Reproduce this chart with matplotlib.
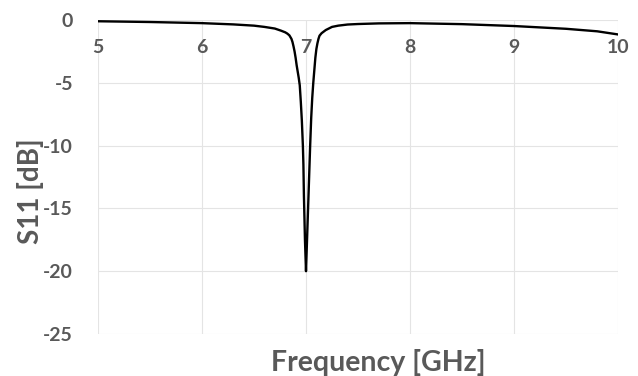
import matplotlib
matplotlib.use("Agg")
import matplotlib.pyplot as plt

# Data
freq = [5.0, 5.5, 6.0, 6.3, 6.5, 6.6, 6.7, 6.76, 6.8, 6.82, 6.84, 6.86, 6.87, 6.88, 6.89, 6.9,
        6.91, 6.92, 6.93, 6.94, 6.95, 6.96, 6.97, 6.975, 6.98, 6.99, 7.0,
        7.01, 7.02, 7.03, 7.04, 7.05, 7.06, 7.07, 7.08, 7.09, 7.10, 7.11, 7.12, 7.13,
        7.15, 7.19, 7.25, 7.31, 7.4, 7.5, 7.7, 8.0, 8.5, 9.0, 9.5, 9.8, 10.0]
s11 = [-0.10, -0.16, -0.25, -0.35, -0.45, -0.55, -0.68, -0.85, -0.98, -1.08, -1.22, -1.5, -1.75,
       -2.1, -2.5, -3.0, -3.6, -4.1, -4.6, -5.2, -6.5, -8.0, -10.0, -11.5, -14.0, -17.5, -20.0,
       -17.5, -15.0, -12.5, -10.0, -7.8, -6.2, -5.0, -4.0, -3.0, -2.3, -1.85, -1.5, -1.25,
       -1.05, -0.8, -0.55, -0.45, -0.36, -0.32, -0.27, -0.25, -0.33, -0.48, -0.70, -0.9, -1.15]

xticks = [5, 6, 7, 8, 9, 10]
yticks = [0, -5, -10, -15, -20, -25]
xlabel = "Frequency [GHz]"
ylabel = "S11 [dB]"

TXT = "#595959"
plt.rcParams['font.family'] = ['Lato', 'DejaVu Sans']

fig = plt.figure(figsize=(6.38, 3.76), dpi=100)
ax = fig.add_axes([98/638, 1-334/376, (618-98)/638, (334-20)/376])

ax.plot(freq, s11, color="black", lw=1.7, solid_joinstyle='round')
ax.set_xlim(5, 10)
ax.set_ylim(-25, 0)
ax.set_xticks(xticks)
ax.set_yticks(yticks)
ax.set_xticklabels([str(t) for t in xticks])
ax.set_yticklabels([str(t) for t in yticks])
ax.grid(True, color="#e4e4e4", lw=0.8)
ax.set_axisbelow(True)
for s in ax.spines.values():
    s.set_visible(False)
ax.spines['bottom'].set_position(('data', 0))
ax.tick_params(axis='both', length=0, labelsize=14, labelcolor=TXT)
ax.tick_params(axis='x', pad=14)
ax.tick_params(axis='y', pad=18)
for lab in ax.get_xticklabels() + ax.get_yticklabels():
    lab.set_fontweight('bold')

fig.text(378/638, 1-362/376, xlabel, ha='center', va='center', fontsize=20.5,
         fontweight='bold', color=TXT)
fig.text(30/638, 1-191/376, ylabel, ha='center', va='center', fontsize=20,
         fontweight='bold', color=TXT, rotation=90)

fig.savefig("out.png", dpi=100)
